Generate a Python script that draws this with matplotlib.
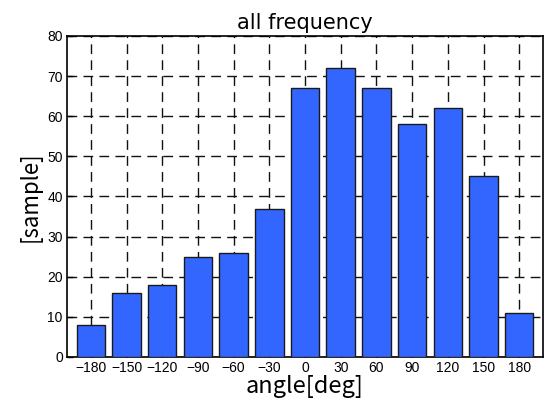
import matplotlib
matplotlib.use("Agg")
import matplotlib.pyplot as plt

angles = [-180, -150, -120, -90, -60, -30, 0, 30, 60, 90, 120, 150, 180]
counts = [8, 16, 18, 25, 26, 37, 67, 72, 67, 58, 62, 45, 11]
yticks = [0, 10, 20, 30, 40, 50, 60, 70, 80]

plt.rcParams['font.family'] = ['Noto Sans CJK JP', 'DejaVu Sans']
sans = ['Liberation Sans', 'DejaVu Sans']

fig = plt.figure(figsize=(5.49, 4.16), dpi=100)
ax = fig.add_axes([67/549, 1-357/416, 476/549, 321/416])

ax.grid(True, color='#111111', linestyle=(0, (7, 4.5)), linewidth=1.0)
ax.set_axisbelow(True)
ax.bar(angles, counts, width=24, color='#3366FF', edgecolor='#1a1a1a', linewidth=1.0, zorder=3)

ax.set_xlim(-200, 200)
ax.set_ylim(0, 80)
ax.set_xticks(angles)
ax.set_xticklabels([str(a).replace('-', '\u2212') for a in angles], fontsize=10, family=sans)
ax.set_yticks(yticks)
ax.set_yticklabels([str(v) for v in yticks], fontsize=10, family=sans)
ax.tick_params(direction='in', length=4, width=1, pad=3)
for s in ax.spines.values():
    s.set_linewidth(1.2)

ax.set_title('all frequency', fontsize=15, pad=5, family=['DejaVu Sans'])
ax.set_xlabel('angle[deg]', fontsize=17, labelpad=0)
ax.set_ylabel('[sample]', fontsize=16, labelpad=4)

fig.savefig('out.png', dpi=100)
